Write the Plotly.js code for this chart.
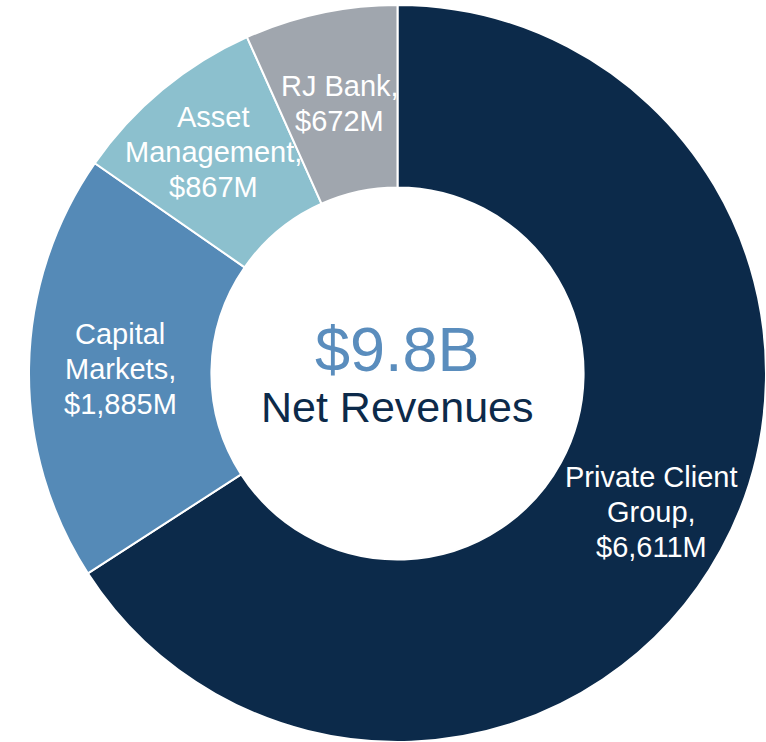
<!DOCTYPE html>
<html>
<head>
<meta charset="utf-8">
<script src="https://cdn.plot.ly/plotly-3.0.1.min.js"></script>
<style>html,body{margin:0;padding:0;background:#fff;}#chart{width:766px;height:742px;}</style>
</head>
<body>
<div id="chart"></div>
<script>
var segments = ['Private Client<br>Group', 'Capital<br>Markets', 'Asset<br>Management', 'RJ Bank'];
var revenues = [6611, 1885, 867, 672];
var colors = ['#0c2a4a', '#558ab7', '#8cc0ce', '#a0a6ae'];
var totalLabel = '$9.8B';
var centerLabel = 'Net Revenues';

var W = 766, H = 742;
var dom = {x: [29 / W, 1], y: [0, 737 / H]};
var cx = (dom.x[0] + dom.x[1]) / 2 * W;
var cy = (1 - (dom.y[0] + dom.y[1]) / 2) * H;
var R = Math.min((dom.x[1] - dom.x[0]) * W, (dom.y[1] - dom.y[0]) * H) / 2;
var FONT = 'Liberation Sans, Arial, sans-serif';
var lineGap = 35;
// label distance from centre, as a fraction of the outer radius (layout setting)
var labelRadius = [0.784, 0.753, 0.782, 0.748];

var total = revenues.reduce(function (a, b) { return a + b; }, 0);
var annotations = [];
var acc = 0;
revenues.forEach(function (v, i) {
  var mid = (acc + v / 2) / total * 2 * Math.PI;
  acc += v;
  var r = labelRadius[i] * R;
  var x = cx + r * Math.sin(mid);
  var y = cy - r * Math.cos(mid);
  var lines = (segments[i] + ',<br>$' + v.toLocaleString('en-US') + 'M').split('<br>');
  lines.forEach(function (ln, j) {
    var yy = y + (j - (lines.length - 1) / 2) * lineGap;
    annotations.push({
      x: x / W, y: 1 - yy / H, xref: 'paper', yref: 'paper',
      xanchor: 'center', yanchor: 'middle', showarrow: false, align: 'center',
      text: ln,
      font: {family: FONT, size: 29, color: '#ffffff'}
    });
  });
});
annotations.push({
  x: cx / W, y: 1 - 349 / H, xref: 'paper', yref: 'paper',
  xanchor: 'center', yanchor: 'middle', showarrow: false,
  text: totalLabel,
  font: {family: FONT, size: 63, color: '#5a8dbd'}
});
annotations.push({
  x: cx / W, y: 1 - 407 / H, xref: 'paper', yref: 'paper',
  xanchor: 'center', yanchor: 'middle', showarrow: false,
  text: centerLabel,
  font: {family: FONT, size: 43, color: '#0c2a4a'}
});

var data = [{
  type: 'pie',
  labels: segments,
  values: revenues,
  sort: false,
  direction: 'clockwise',
  rotation: 0,
  hole: 0.505,
  domain: dom,
  marker: {colors: colors, line: {color: '#ffffff', width: 2}},
  textinfo: 'none',
  hoverinfo: 'none',
  showlegend: false
}];

var layout = {
  width: W, height: H,
  margin: {l: 0, r: 0, t: 0, b: 0, pad: 0},
  paper_bgcolor: '#ffffff',
  showlegend: false,
  annotations: annotations
};

Plotly.newPlot('chart', data, layout, {displayModeBar: false, staticPlot: true});
</script>
</body>
</html>
